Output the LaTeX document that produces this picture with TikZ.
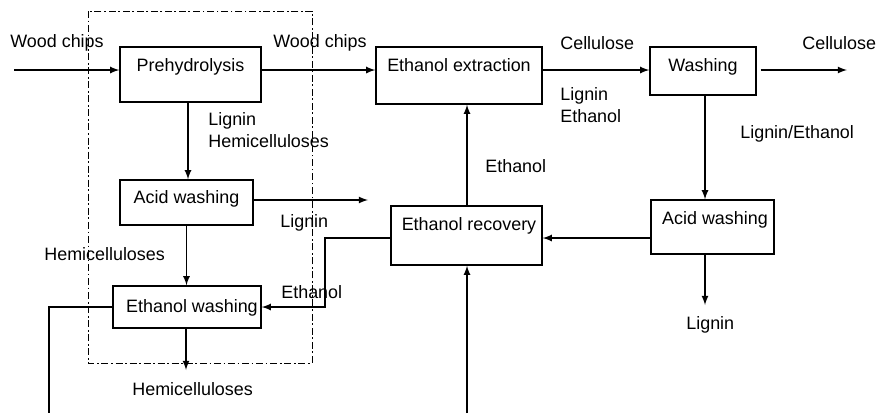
\documentclass[tikz,border=0pt]{standalone}
\usepackage{fontspec}
\setmainfont{Liberation Sans}

\tikzset{
  box/.style={draw, thick, rectangle, inner sep=0pt, text height=0.72em},
  lbl/.style={anchor=west, inner sep=0pt, align=left},
  frame/.style={thin, dash pattern=on 4pt off 1.5pt on 1pt off 1.5pt},
  >=latex
}

\begin{document}
\begin{tikzpicture}[x=0.02cm, y=-0.02cm, font=\fontsize{10.2}{12.5}\selectfont]
    \useasboundingbox (0,0) rectangle (876,413);

    \node[box, minimum width=2.82cm, minimum height=1.10cm, text depth=0.38cm] (pre) at (190.5,74.5) {Prehydrolysis};
    \node[box, minimum width=3.32cm, minimum height=1.14cm, text depth=0.40cm] (ext) at (459,75.5) {Ethanol extraction};
    \node[box, minimum width=2.12cm, minimum height=0.96cm, text depth=0.24cm] (wash) at (703,71) {Washing};
    \node[box, minimum width=2.46cm, minimum height=1.08cm, text depth=0.36cm] (acidR) at (712.5,227) {\hspace{0.1cm}Acid washing};
    \node[box, minimum width=3.02cm, minimum height=1.18cm, text depth=0.46cm] (rec) at (466.5,235.5) {\hspace{0.1cm}Ethanol recovery};
    \node[box, minimum width=2.66cm, minimum height=0.90cm, text depth=0.22cm] (acidL) at (186.5,202.5) {Acid washing};
    \node[box, minimum width=2.96cm, minimum height=0.84cm, text depth=0.04cm] (ewash) at (187,307) {\hspace{0.2cm}Ethanol washing};

    \draw[frame] (88,11) rectangle (312,363);

    \coordinate (feed) at (14,70);
    \coordinate (celOut) at (847,70);
    \coordinate (ligMid) at (368,200);
    \coordinate (ligR) at (705,305);
    \coordinate (hemOut) at (186,370);
    \coordinate (loopL) at (49,413);
    \coordinate (loopR) at (467,413);

    \node[lbl] (wc1) at (10,43) {Wood chips};
    \node[lbl] (wc2) at (273,43) {Wood chips};
    \node[lbl] (cel1) at (560,43) {Cellulose};
    \node[lbl] (cel2) at (802,43) {Cellulose};
    \node[lbl] (le) at (560,105) {Lignin\\Ethanol};
    \node[lbl] (lh) at (208,130.5) {Lignin\\Hemicelluloses};
    \node[lbl] (lse) at (740,134) {Lignin/Ethanol};
    \node[lbl] (eth1) at (485,166) {Ethanol};
    \node[lbl] (lig1) at (280,223) {Lignin};
    \node[lbl] (hem1) at (44,254) {Hemicelluloses};
    \node[lbl] (eth2) at (281,292) {Ethanol};
    \node[lbl] (lig2) at (686,325) {Lignin};
    \node[lbl] (hem2) at (132,389) {Hemicelluloses};

    \draw[thick,->] (feed) -- (feed -| pre.west);
    \draw[thick,->] (pre.east |- feed) -- (ext.west |- feed);
    \draw[thick,->] (ext.east |- feed) -- (wash.west |- feed);
    \draw[thick,->] ([xshift=0.08cm]wash.east |- feed) -- (celOut);

    \draw[thick,->] (pre.south -| 188,0) -- (acidL.north -| 188,0);
    \draw[thick,->] (acidL.east |- ligMid) -- (ligMid);
    \draw[thick,->] (acidL.south) -- (acidL.south |- ewash.north);
    \draw[thick,->] (ewash.south -| hemOut) -- (hemOut);
    \draw[thick] (ewash.west) -| (loopL);

    \draw[thick,->] (wash.south -| ligR) -- (acidR.north -| ligR);
    \draw[thick,->] (acidR.south -| ligR) -- (ligR);
    \draw[thick,->] (acidR.west |- 0,238) -- (rec.east |- 0,238);
    \draw[thick,->] (rec.north -| loopR) -- (ext.south -| loopR);
    \draw[thick,->] (loopR) -- (rec.south -| loopR);
    \draw[thick,->] (rec.west |- 0,238) -- (325,238) |- (ewash.east);
\end{tikzpicture}
\end{document}
